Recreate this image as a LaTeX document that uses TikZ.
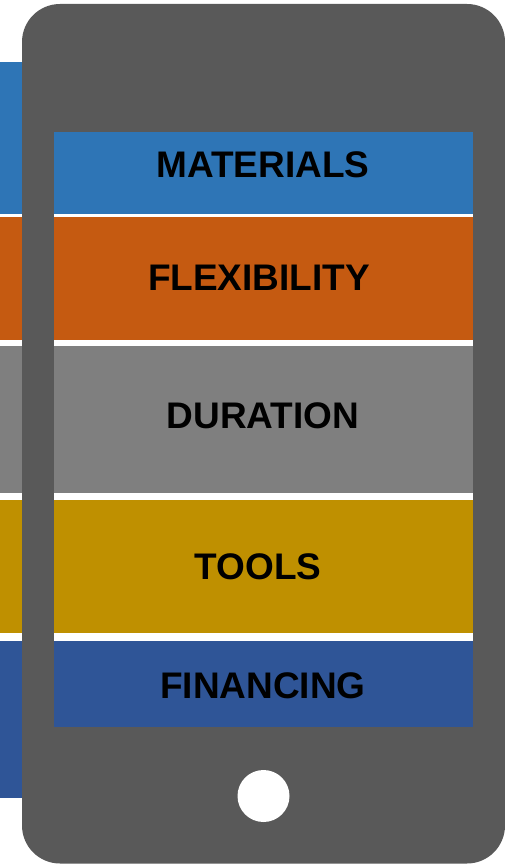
\documentclass[tikz,border=0pt]{standalone}
\usepackage{fontspec}
\setmainfont{Liberation Sans}
\usetikzlibrary{positioning}

\begin{document}
\begin{tikzpicture}[x=1pt,y=-1pt,
  label/.style={inner sep=0pt,text=black,font=\fontsize{37}{44}\selectfont\bfseries}]
%
\useasboundingbox (0,0) rectangle (505,864);
%
\definecolor{cb0}{RGB}{46,117,182}
\definecolor{cb1}{RGB}{197,90,17}
\definecolor{cb2}{RGB}{127,127,127}
\definecolor{cb3}{RGB}{191,144,0}
\definecolor{cb4}{RGB}{47,85,151}
\definecolor{cph}{RGB}{89,89,89}
%
% strips behind the phone
\fill[cb0] (0,62) rectangle (60,214);
\fill[cb1] (0,217) rectangle (60,340);
\fill[cb2] (0,346) rectangle (60,493);
\fill[cb3] (0,500) rectangle (60,633);
\fill[cb4] (0,641) rectangle (60,798);
%
% phone body
\fill[cph,rounded corners=38pt] (22,4) rectangle (505,863.5);
%
% screen
\fill[white] (54,132) rectangle (473,727);
\fill[cb0] (54,132) rectangle (473,214);
\fill[cb1] (54,217) rectangle (473,340);
\fill[cb2] (54,346) rectangle (473,493);
\fill[cb3] (54,500) rectangle (473,633);
\fill[cb4] (54,641) rectangle (473,727);
%
\node[label] (materials) at (263,165) {MATERIALS};
\node[label] (flexibility) at (259,278) {FLEXIBILITY};
\node[label] (duration) at (263,416) {DURATION};
\node[label] (tools) at (258,567) {TOOLS};
\node[label] (financing) at (263,686) {FINANCING};
%
% home button
\node[circle,fill=white,minimum size=52pt,inner sep=0pt] (home) at (263.5,796) {};
%
\end{tikzpicture}
\end{document}
